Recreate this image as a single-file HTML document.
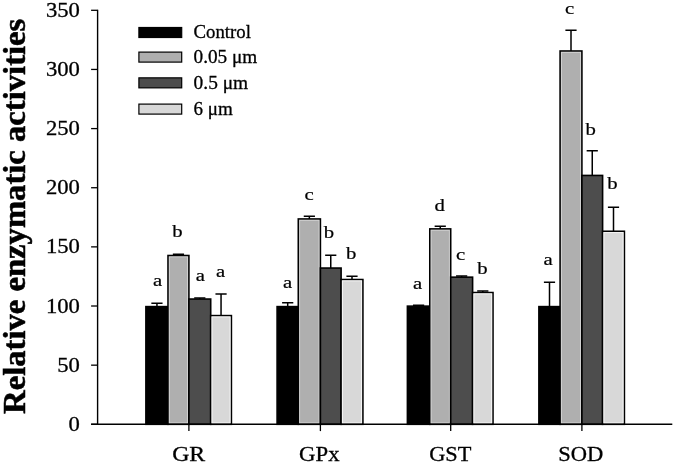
<!DOCTYPE html>
<html lang="en">
<head>
<meta charset="utf-8">
<title>Relative enzymatic activities</title>
<style>
html,body{margin:0;padding:0;background:#fff;}
body{width:675px;height:464px;overflow:hidden;}
#chart{width:675px;height:464px;will-change:transform;}
svg{display:block;}
text{font-family:"Liberation Serif","Times New Roman",serif;fill:#000;stroke:#000;stroke-width:0.3px;}
.tk{font-size:21px;}
.xl{font-size:20.7px;}
.lg{font-size:18.3px;}
.lt{font-size:16.6px;stroke-width:0.2px;}
.ttl{font-size:30px;font-weight:bold;stroke-width:0.5px;}
</style>
</head>
<body>
<div id="chart">
<svg width="675" height="464" viewBox="0 0 675 464">
<rect x="145.90" y="306.61" width="22.10" height="117.69" fill="#000000" stroke="#000" stroke-width="1.6"/>
<path d="M156.95 306.61V303.18M151.35 303.18H162.55" stroke="#000" stroke-width="1.5" fill="none"/>
<rect x="168.00" y="255.51" width="20.90" height="168.79" fill="#afafaf" stroke="#000" stroke-width="1.6"/>
<rect x="169.30" y="256.81" width="18.30" height="166.19" fill="none" stroke="#fff" stroke-opacity="0.45" stroke-width="1"/>
<path d="M178.45 255.51V254.21M172.85 254.21H184.05" stroke="#000" stroke-width="1.5" fill="none"/>
<rect x="188.90" y="299.04" width="21.80" height="125.26" fill="#4d4d4d" stroke="#000" stroke-width="1.6"/>
<path d="M199.80 299.04V298.10M194.20 298.10H205.40" stroke="#000" stroke-width="1.5" fill="none"/>
<rect x="210.70" y="315.60" width="20.70" height="108.70" fill="#d8d8d8" stroke="#000" stroke-width="1.6"/>
<rect x="212.00" y="316.90" width="18.10" height="106.10" fill="none" stroke="#fff" stroke-opacity="0.8" stroke-width="1"/>
<path d="M221.05 315.60V294.08M215.45 294.08H226.65" stroke="#000" stroke-width="1.5" fill="none"/>
<text class="lt" transform="translate(157.50,285.60) scale(1.25,1)" text-anchor="middle">a</text>
<text class="lt" transform="translate(177.40,237.20) scale(1.25,1)" text-anchor="middle">b</text>
<text class="lt" transform="translate(200.40,280.80) scale(1.25,1)" text-anchor="middle">a</text>
<text class="lt" transform="translate(220.60,277.20) scale(1.25,1)" text-anchor="middle">a</text>
<rect x="277.10" y="306.61" width="21.20" height="117.69" fill="#000000" stroke="#000" stroke-width="1.6"/>
<path d="M287.70 306.61V302.71M282.10 302.71H293.30" stroke="#000" stroke-width="1.5" fill="none"/>
<rect x="298.30" y="218.96" width="22.10" height="205.34" fill="#afafaf" stroke="#000" stroke-width="1.6"/>
<rect x="299.60" y="220.26" width="19.50" height="202.74" fill="none" stroke="#fff" stroke-opacity="0.45" stroke-width="1"/>
<path d="M309.35 218.96V216.24M303.75 216.24H314.95" stroke="#000" stroke-width="1.5" fill="none"/>
<rect x="320.40" y="268.05" width="20.70" height="156.25" fill="#4d4d4d" stroke="#000" stroke-width="1.6"/>
<path d="M330.75 268.05V255.16M325.15 255.16H336.35" stroke="#000" stroke-width="1.5" fill="none"/>
<rect x="341.10" y="279.53" width="21.80" height="144.77" fill="#d8d8d8" stroke="#000" stroke-width="1.6"/>
<rect x="342.40" y="280.83" width="19.20" height="142.17" fill="none" stroke="#fff" stroke-opacity="0.8" stroke-width="1"/>
<path d="M352.00 279.53V276.21M346.40 276.21H357.60" stroke="#000" stroke-width="1.5" fill="none"/>
<text class="lt" transform="translate(287.60,287.60) scale(1.25,1)" text-anchor="middle">a</text>
<text class="lt" transform="translate(309.00,199.60) scale(1.25,1)" text-anchor="middle">c</text>
<text class="lt" transform="translate(329.00,237.90) scale(1.25,1)" text-anchor="middle">b</text>
<text class="lt" transform="translate(351.30,259.30) scale(1.25,1)" text-anchor="middle">b</text>
<rect x="407.40" y="306.14" width="22.40" height="118.16" fill="#000000" stroke="#000" stroke-width="1.6"/>
<path d="M418.60 306.14V305.19M413.00 305.19H424.20" stroke="#000" stroke-width="1.5" fill="none"/>
<rect x="429.80" y="228.90" width="20.90" height="195.40" fill="#afafaf" stroke="#000" stroke-width="1.6"/>
<rect x="431.10" y="230.20" width="18.30" height="192.80" fill="none" stroke="#fff" stroke-opacity="0.45" stroke-width="1"/>
<path d="M440.25 228.90V226.18M434.65 226.18H445.85" stroke="#000" stroke-width="1.5" fill="none"/>
<rect x="450.70" y="277.16" width="21.90" height="147.14" fill="#4d4d4d" stroke="#000" stroke-width="1.6"/>
<path d="M461.65 277.16V275.98M456.05 275.98H467.25" stroke="#000" stroke-width="1.5" fill="none"/>
<rect x="472.60" y="292.54" width="20.40" height="131.76" fill="#d8d8d8" stroke="#000" stroke-width="1.6"/>
<rect x="473.90" y="293.84" width="17.80" height="129.16" fill="none" stroke="#fff" stroke-opacity="0.8" stroke-width="1"/>
<path d="M482.80 292.54V291.00M477.20 291.00H488.40" stroke="#000" stroke-width="1.5" fill="none"/>
<text class="lt" transform="translate(417.60,288.60) scale(1.25,1)" text-anchor="middle">a</text>
<text class="lt" transform="translate(439.60,210.50) scale(1.25,1)" text-anchor="middle">d</text>
<text class="lt" transform="translate(460.70,260.00) scale(1.25,1)" text-anchor="middle">c</text>
<text class="lt" transform="translate(482.40,274.40) scale(1.25,1)" text-anchor="middle">b</text>
<rect x="538.90" y="306.61" width="21.20" height="117.69" fill="#000000" stroke="#000" stroke-width="1.6"/>
<path d="M549.50 306.61V282.25M543.90 282.25H555.10" stroke="#000" stroke-width="1.5" fill="none"/>
<rect x="560.10" y="51.00" width="21.80" height="373.30" fill="#afafaf" stroke="#000" stroke-width="1.6"/>
<rect x="561.40" y="52.30" width="19.20" height="370.70" fill="none" stroke="#fff" stroke-opacity="0.45" stroke-width="1"/>
<path d="M571.00 51.00V30.18M565.40 30.18H576.60" stroke="#000" stroke-width="1.5" fill="none"/>
<rect x="581.90" y="175.44" width="20.70" height="248.86" fill="#4d4d4d" stroke="#000" stroke-width="1.6"/>
<path d="M592.25 175.44V150.71M586.65 150.71H597.85" stroke="#000" stroke-width="1.5" fill="none"/>
<rect x="602.60" y="231.27" width="21.80" height="193.03" fill="#d8d8d8" stroke="#000" stroke-width="1.6"/>
<rect x="603.90" y="232.57" width="19.20" height="190.43" fill="none" stroke="#fff" stroke-opacity="0.8" stroke-width="1"/>
<path d="M613.50 231.27V207.14M607.90 207.14H619.10" stroke="#000" stroke-width="1.5" fill="none"/>
<text class="lt" transform="translate(548.00,264.90) scale(1.25,1)" text-anchor="middle">a</text>
<text class="lt" transform="translate(569.60,14.20) scale(1.25,1)" text-anchor="middle">c</text>
<text class="lt" transform="translate(590.70,134.70) scale(1.25,1)" text-anchor="middle">b</text>
<text class="lt" transform="translate(612.40,189.00) scale(1.25,1)" text-anchor="middle">b</text>
<path d="M97.6 9.70V425.00M91.1 424.3H672.3" stroke="#000" stroke-width="1.4" fill="none"/>
<path d="M91.1 424.30H97.6" stroke="#000" stroke-width="1.3"/>
<text class="tk" transform="translate(79.90,430.90) scale(1.08,1)" text-anchor="end">0</text>
<path d="M91.1 365.16H97.6" stroke="#000" stroke-width="1.3"/>
<text class="tk" transform="translate(79.90,371.76) scale(1.08,1)" text-anchor="end">50</text>
<path d="M91.1 306.01H97.6" stroke="#000" stroke-width="1.3"/>
<text class="tk" transform="translate(79.90,312.61) scale(1.08,1)" text-anchor="end">100</text>
<path d="M91.1 246.87H97.6" stroke="#000" stroke-width="1.3"/>
<text class="tk" transform="translate(79.90,253.47) scale(1.08,1)" text-anchor="end">150</text>
<path d="M91.1 187.73H97.6" stroke="#000" stroke-width="1.3"/>
<text class="tk" transform="translate(79.90,194.33) scale(1.08,1)" text-anchor="end">200</text>
<path d="M91.1 128.59H97.6" stroke="#000" stroke-width="1.3"/>
<text class="tk" transform="translate(79.90,135.19) scale(1.08,1)" text-anchor="end">250</text>
<path d="M91.1 69.44H97.6" stroke="#000" stroke-width="1.3"/>
<text class="tk" transform="translate(79.90,76.04) scale(1.08,1)" text-anchor="end">300</text>
<path d="M91.1 10.30H97.6" stroke="#000" stroke-width="1.3"/>
<text class="tk" transform="translate(79.90,16.90) scale(1.08,1)" text-anchor="end">350</text>
<path d="M188.9 424.3V431.1" stroke="#000" stroke-width="1.3"/>
<text class="xl" transform="translate(188.70,461.30) scale(1.15,1)" text-anchor="middle">GR</text>
<path d="M320.4 424.3V431.1" stroke="#000" stroke-width="1.3"/>
<text class="xl" transform="translate(319.30,461.30) scale(1.1,1)" text-anchor="middle">GPx</text>
<path d="M450.7 424.3V431.1" stroke="#000" stroke-width="1.3"/>
<text class="xl" transform="translate(450.30,461.30) scale(1.08,1)" text-anchor="middle">GST</text>
<path d="M581.9 424.3V431.1" stroke="#000" stroke-width="1.3"/>
<text class="xl" transform="translate(580.70,461.30) scale(1.09,1)" text-anchor="middle">SOD</text>
<rect x="138.9" y="27.50" width="42.8" height="10.0" fill="#000000" stroke="#000" stroke-width="1.2"/>
<text class="lg" transform="translate(193.60,37.50) scale(1.025,1)" text-anchor="start">Control</text>
<rect x="138.9" y="52.10" width="42.8" height="10.0" fill="#afafaf" stroke="#000" stroke-width="1.2"/>
<text class="lg" transform="translate(193.60,62.70) scale(1.05,1)" text-anchor="start">0.05 μm</text>
<rect x="138.9" y="77.85" width="42.8" height="10.0" fill="#4d4d4d" stroke="#000" stroke-width="1.2"/>
<text class="lg" transform="translate(193.60,89.30) scale(1.06,1)" text-anchor="start">0.5 μm</text>
<rect x="138.9" y="104.10" width="42.8" height="10.0" fill="#d8d8d8" stroke="#000" stroke-width="1.2"/>
<text class="lg" transform="translate(193.60,115.00) scale(1.04,1)" text-anchor="start">6 μm</text>
<text class="ttl" transform="translate(24.9,413.9) rotate(-90) scale(1,1.06)" textLength="395.2" lengthAdjust="spacingAndGlyphs">Relative enzymatic activities</text>
</svg>
</div>
</body>
</html>
